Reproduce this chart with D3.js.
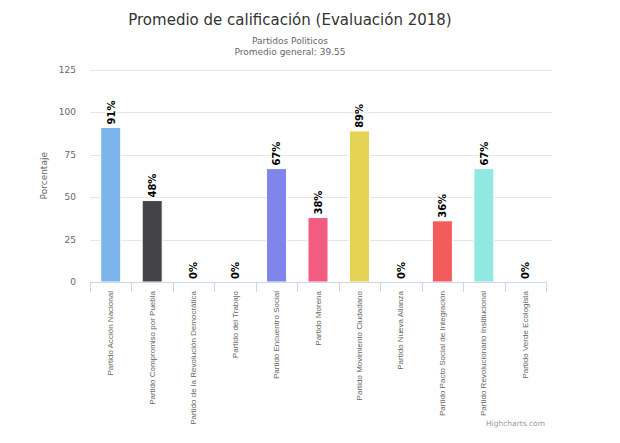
<!DOCTYPE html>
<html><head><meta charset="utf-8">
<script src="https://cdn.jsdelivr.net/npm/d3@7/dist/d3.min.js"></script>
<style>body{margin:0;background:#fff;}svg{display:block;}</style>
</head><body>
<svg id="c" width="620" height="443"></svg>
<script>
const categories = ["Partido Acción Nacional","Partido Compromiso por Puebla","Partido de la Revolución Democrática","Partido del Trabajo","Partido Encuentro Social","Partido Morena","Partido Movimiento Ciudadano","Partido Nueva Alianza","Partido Pacto Social de Integración","Partido Revolucionario Institucional","Partido Verde Ecologista"];
const values = [90.9, 47.9, 0, 0, 66.7, 37.9, 88.9, 0, 36.0, 66.7, 0];
const colors = ["#7cb5ec","#434348","#90ed7d","#f7a35c","#8085e9","#f15c80","#e4d354","#2b908f","#f45b5b","#91e8e1","#7cb5ec"];
const yTicks = [0,25,50,75,100,125];
const titleText = "Promedio de calificación (Evaluación 2018)";
const subtitleLines = ["Partidos Politicos","Promedio general: 39.55"];
const yTitle = "Porcentaje";

(function(){
const svg = d3.select("#c");
const pLeft = 90, pRight = 546, pTop = 69.5, pBottom = 282;
const x = d3.scaleBand().domain(categories).range([pLeft, pRight]).paddingInner(0).paddingOuter(0);
const y = d3.scaleLinear().domain([0,125]).range([pBottom, pTop]);
const font = "'DejaVu Sans', sans-serif";

svg.append("text").attr("x",290).attr("y",25).attr("text-anchor","middle")
  .attr("font-family",font).attr("font-size",15).attr("fill","#333").text(titleText);
subtitleLines.forEach((t,i)=>{
  svg.append("text").attr("x",290).attr("y",44+i*11).attr("text-anchor","middle")
    .attr("font-family",font).attr("font-size",9).attr("fill","#666").text(t);
});

svg.append("g").selectAll("line").data(yTicks.filter(d=>d>0)).join("line")
  .attr("x1",pLeft).attr("x2",pRight+6).attr("y1",d=>Math.round(y(d))+0.5).attr("y2",d=>Math.round(y(d))+0.5)
  .attr("stroke","#e6e6e6");

const ya = svg.append("g").attr("transform",`translate(${pLeft},0)`)
  .call(d3.axisLeft(y).tickValues(yTicks).tickSize(0).tickPadding(14));
ya.select(".domain").remove();
ya.selectAll("text").attr("font-family",font).attr("font-size",9).attr("fill","#666");

svg.append("text").attr("transform",`translate(47,${(pTop+pBottom)/2}) rotate(-90)`)
  .attr("text-anchor","middle").attr("font-family",font).attr("font-size",9).attr("fill","#666").text(yTitle);

const bw = 20;
svg.append("g").selectAll("rect").data(values).join("rect")
  .attr("x",(d,i)=>x(categories[i])+x.bandwidth()/2-bw/2)
  .attr("y",d=>y(d)).attr("width",bw).attr("height",d=>pBottom-y(d))
  .attr("fill",(d,i)=>colors[i]).attr("stroke","#fff").attr("stroke-width",1);

const xa = svg.append("g").attr("transform",`translate(0,${pBottom})`)
  .call(d3.axisBottom(x).tickSize(0).tickPadding(0));
xa.select(".domain").attr("stroke","#ccd6eb").attr("d",`M${pLeft},0.5H${pRight}`);
const bounds = categories.map(c=>x(c)).concat([pRight]);
svg.append("g").selectAll("line").data(bounds).join("line")
  .attr("x1",d=>Math.round(d)+0.5).attr("x2",d=>Math.round(d)+0.5).attr("y1",pBottom).attr("y2",pBottom+10)
  .attr("stroke","#ccd6eb");
xa.selectAll(".tick text")
  .attr("font-family","'Liberation Sans', Arial, sans-serif").attr("font-size",8).attr("fill","#666")
  .attr("text-anchor","end").attr("dy","0.32em")
  .attr("transform","translate(0,9) rotate(-90)").attr("x",0).attr("y",0);

svg.append("g").selectAll("text").data(values).join("text")
  .attr("transform",(d,i)=>`translate(${x(categories[i])+x.bandwidth()/2+3.8},${y(d)-3}) rotate(-90)`)
  .attr("text-anchor","start").attr("font-family",font).attr("font-size",10).attr("font-weight","bold")
  .attr("fill","#000").attr("stroke","#fff").attr("stroke-width",2).attr("paint-order","stroke")
  .text(d=>Math.round(d)+"%");

svg.append("text").attr("x",545).attr("y",426).attr("text-anchor","end")
  .attr("font-family",font).attr("font-size",7.5).attr("fill","#999").text("Highcharts.com");
})();
</script>
</body></html>
